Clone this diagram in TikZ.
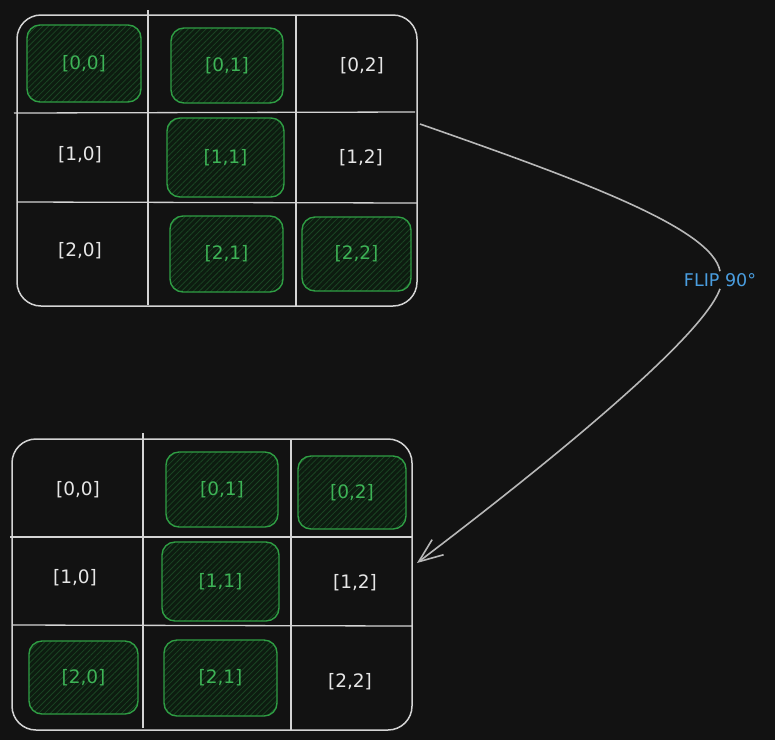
\documentclass[tikz,border=0pt]{standalone}
\usepackage{fontspec}
\setmainfont{DejaVu Sans}
\usetikzlibrary{arrows.meta,patterns.meta}

\definecolor{bg}{HTML}{121212}
\definecolor{gridline}{HTML}{D4D4D4}
\definecolor{cellink}{HTML}{E6E6E6}
\definecolor{gstroke}{HTML}{2F9E44}
\definecolor{gink}{HTML}{3DB356}
\definecolor{gfill}{HTML}{0D1C10}
\definecolor{ghatch}{HTML}{1A4423}
\definecolor{flipblue}{HTML}{4A9EE0}
\definecolor{arrowgray}{HTML}{B8B8B8}

\tikzset{
  board/.style={draw=gridline, line width=1.5pt, rounded corners=24pt},
  rule/.style={draw=gridline, line width=1.3pt},
  cell/.style={text=cellink, font=\fontsize{18.5}{18.5}\selectfont},
  hit/.style={draw=gstroke, line width=1.4pt, rounded corners=13pt,
    preaction={fill=gfill},
    pattern={Lines[angle=45,distance=4.2pt,line width=0.8pt]}, pattern color=ghatch,
    text=gink, font=\fontsize{18.5}{18.5}\selectfont, inner sep=0pt},
  fliplabel/.style={text=flipblue, font=\fontsize{17.5}{17.5}\selectfont, inner sep=2pt},
  flow/.style={draw=arrowgray, line width=1.6pt},
}

\begin{document}
\begin{tikzpicture}[x=1pt,y=-1pt]
  \fill[bg] (0,0) rectangle (775,740);
  \useasboundingbox (0,0) rectangle (775,740);

  % ---- upper grid ----
  \draw[board] (17,15) rectangle (417,306);
  \draw[rule] (148,10) -- (148,305);
  \draw[rule] (296,15) -- (296,306);
  \draw[rule] (14,113) -- (415,112);
  \draw[rule] (17,202) -- (417,203);

  \node[hit, minimum width=114pt, minimum height=77pt] (a00) at (84,63.5) {[0,0]};
  \node[hit, minimum width=112pt, minimum height=75pt] (a01) at (227,65.5) {[0,1]};
  \node[cell] (a02) at (362,66) {[0,2]};
  \node[cell] (a10) at (80,155) {[1,0]};
  \node[hit, minimum width=117pt, minimum height=79pt] (a11) at (225.5,157.5) {[1,1]};
  \node[cell] (a12) at (361,158) {[1,2]};
  \node[cell] (a20) at (80,251) {[2,0]};
  \node[hit, minimum width=113pt, minimum height=76pt] (a21) at (226.5,254) {[2,1]};
  \node[hit, minimum width=109pt, minimum height=74pt] (a22) at (356.5,254) {[2,2]};

  % ---- lower grid ----
  \draw[board] (12,439) rectangle (412,730);
  \draw[rule] (143,433) -- (143,728);
  \draw[rule] (291,439) -- (291,730);
  \draw[rule] (10,537) -- (412,537);
  \draw[rule] (12,625) -- (412,626);

  \node[cell] (b00) at (78,490) {[0,0]};
  \node[hit, minimum width=112pt, minimum height=75pt] (b01) at (222,489.5) {[0,1]};
  \node[hit, minimum width=108pt, minimum height=73pt] (b02) at (352,492.5) {[0,2]};
  \node[cell] (b10) at (75,578) {[1,0]};
  \node[hit, minimum width=117pt, minimum height=79pt] (b11) at (220.5,581.5) {[1,1]};
  \node[cell] (b12) at (355,583) {[1,2]};
  \node[hit, minimum width=109pt, minimum height=73pt] (b20) at (83.5,677.5) {[2,0]};
  \node[hit, minimum width=113pt, minimum height=76pt] (b21) at (220.5,678) {[2,1]};
  \node[cell] (b22) at (350,682) {[2,2]};

  % ---- flip connector ----
  \coordinate (src) at (420,124);
  \coordinate (dst) at (417,563);
  \node[fliplabel] (flip) at (720,280) {FLIP 90°};
  \draw[flow] (src) .. controls (580,180) and (712,228) .. (flip.north);
  \draw[flow, -{Straight Barb[length=24pt,width=19pt,line width=1.6pt]}]
    (flip.south) .. controls (700,345) and (500,500) .. (dst);
\end{tikzpicture}
\end{document}
